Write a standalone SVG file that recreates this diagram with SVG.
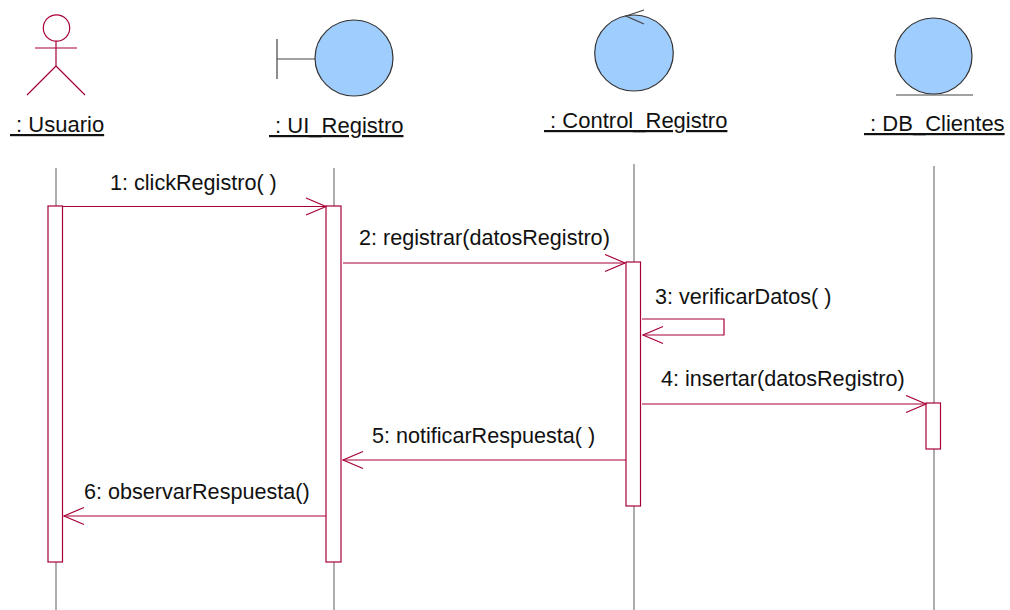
<svg xmlns="http://www.w3.org/2000/svg" width="1010" height="610" viewBox="0 0 1010 610">
<style>
text{font-family:"Liberation Sans",Arial,sans-serif;fill:#111;white-space:pre}
.name{font-size:22px;text-decoration:underline}
.msg{font-size:21.6px}
.red{fill:none;stroke:#a80036;stroke-width:1.2}
.ball{fill:#9fcdfd;stroke:#333;stroke-width:1.2}
.dark{fill:none;stroke:#444;stroke-width:1.2}
.life{stroke:#777;stroke-width:1.2;fill:none}
.act{fill:#fff;stroke:#a80036;stroke-width:1.2}
</style>
<defs>
<marker id="open" markerUnits="userSpaceOnUse" markerWidth="24" markerHeight="20" refX="21" refY="9.500" orient="auto"><path d="M1 1L21 9.500L1 18" fill="none" stroke="#a80036" stroke-width="1.2"/></marker>
</defs>
<g id="lifelines">
<path class="life" d="M56 168V610"/>
<path class="life" d="M334 168V610"/>
<path class="life" d="M634 164V610"/>
<path class="life" d="M934 166V610"/>
</g>
<g id="node-usuario">
<circle class="red" cx="56.500" cy="28" r="13.200"/>
<path class="red" d="M35 48H77M56 41V66M56 66L27 95M56 66L85 95"/>
<text class="name" x="10" y="132"> : Usuario</text>
<rect class="act" x="48" y="206" width="14.500" height="356"/>
</g>
<g id="node-ui-registro">
<path class="dark" d="M277 39V79M277 59H315"/>
<ellipse class="ball" cx="354" cy="58" rx="39" ry="38"/>
<text class="name" x="269" y="133"> : UI_Registro</text>
<rect class="act" x="326" y="206" width="15" height="356"/>
</g>
<g id="node-control-registro">
<ellipse class="ball" cx="634" cy="53" rx="39.300" ry="38"/>
<path class="dark" d="M644 10L626 16L644 24"/>
<text class="name" x="544" y="128"> : Control_Registro</text>
<rect class="act" x="626" y="262" width="14.500" height="244"/>
</g>
<g id="node-db-clientes">
<ellipse class="ball" cx="933.500" cy="56" rx="38.500" ry="38"/>
<path class="dark" d="M896 95H973"/>
<text class="name" x="864" y="131"> : DB_Clientes</text>
<rect class="act" x="926" y="403" width="14.500" height="46"/>
</g>
<g id="connectors">
<path class="red" d="M63 206.500H326" marker-end="url(#open)"/>
<path class="red" d="M343 263H625" marker-end="url(#open)"/>
<path class="red" d="M642 319H724V335H643" marker-end="url(#open)"/>
<path class="red" d="M642 404H926" marker-end="url(#open)"/>
<path class="red" d="M626 460H343" marker-end="url(#open)"/>
<path class="red" d="M326 516H64" marker-end="url(#open)"/>
</g>
<g id="labels">
<text class="msg" x="110" y="190">1: clickRegistro( )</text>
<text class="msg" x="359" y="245">2: registrar(datosRegistro)</text>
<text class="msg" x="655" y="304">3: verificarDatos( )</text>
<text class="msg" x="661" y="386">4: insertar(datosRegistro)</text>
<text class="msg" x="372" y="443">5: notificarRespuesta( )</text>
<text class="msg" x="84" y="499">6: observarRespuesta()</text>
</g>
</svg>
